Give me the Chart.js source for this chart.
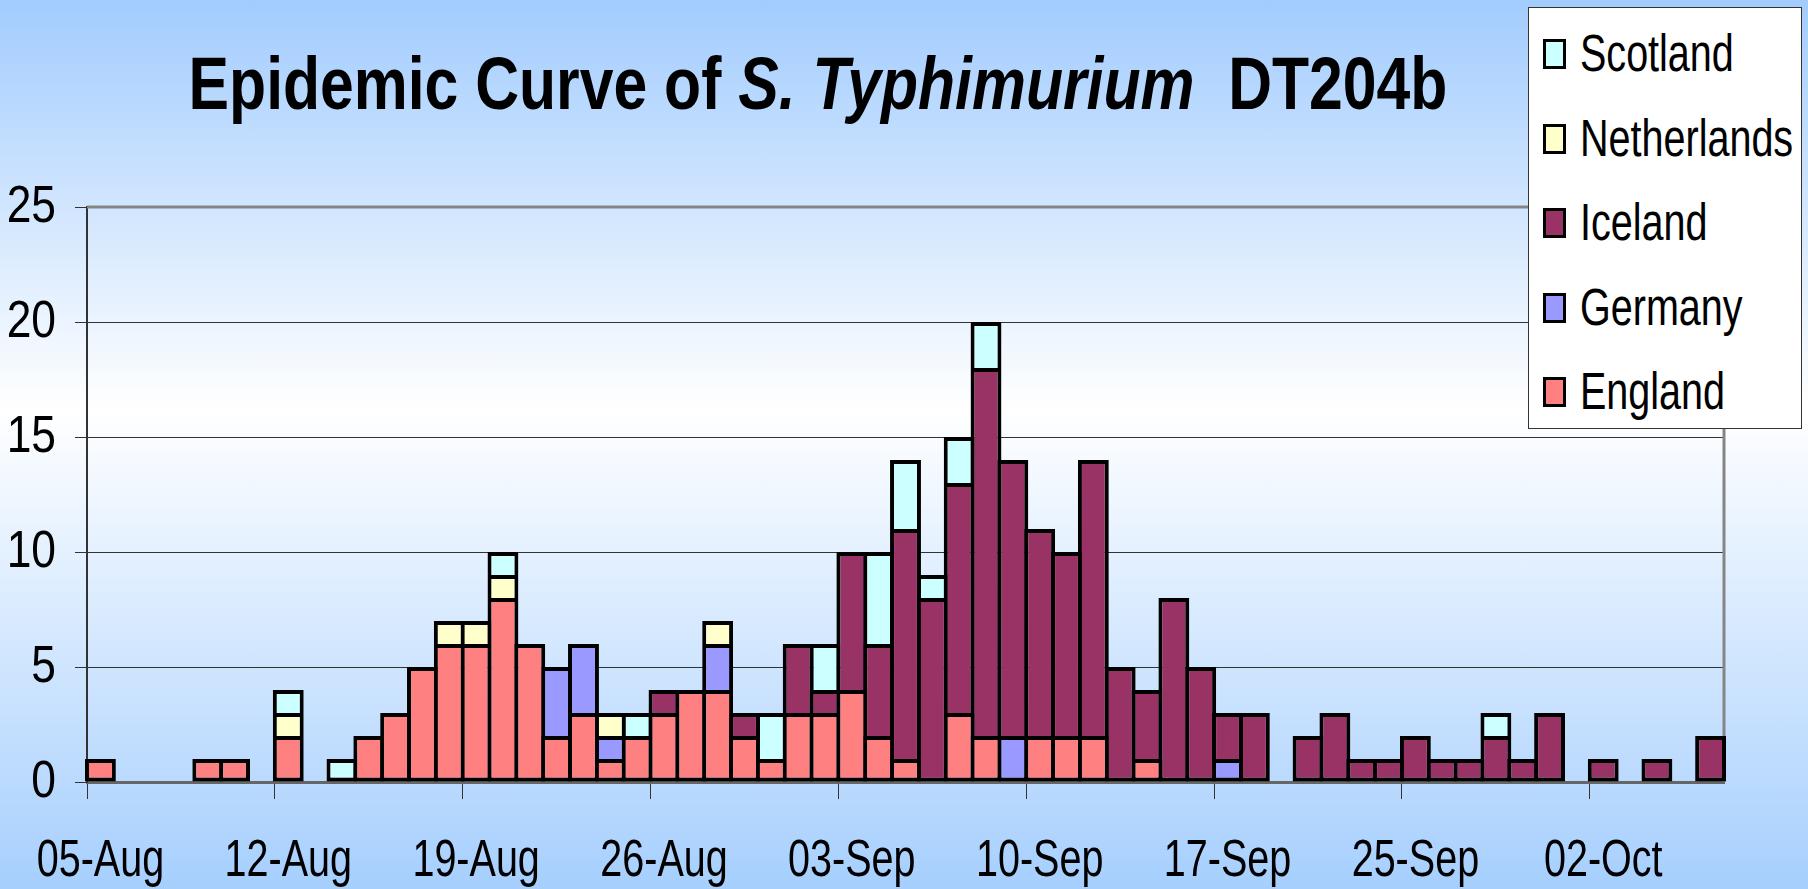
<!DOCTYPE html>
<html>
<head>
<meta charset="utf-8">
<title>Epidemic Curve of S. Typhimurium DT204b</title>
<script src="https://cdn.jsdelivr.net/npm/chart.js@4.4.1/dist/chart.umd.min.js"></script>
<style>
  html, body { margin: 0; padding: 0; }
  body {
    width: 1808px;
    height: 889px;
    overflow: hidden;
    position: relative;
    background: linear-gradient(to bottom, #a2ccfe 0%, #ffffff 46%, #a6cffe 100%);
    font-family: 'Liberation Sans', Arial, sans-serif;
  }
  #chart-wrap { position: absolute; left: 0; top: 0; width: 1808px; height: 889px; }
  #title {
    position: absolute;
    left: 0;
    top: 47px;
    width: 1636px;
    text-align: center;
    font-size: 74px;
    line-height: 74px;
    font-weight: bold;
    color: #000;
    white-space: pre;
    transform: scaleX(0.82);
    transform-origin: 818px 0;
  }
  #legend {
    position: absolute;
    left: 1528px;
    top: 7px;
    width: 272px;
    height: 420px;
    background: #fff;
    border: 1px solid #333;
  }
  .legend-item { position: absolute; left: 0; width: 272px; height: 50px; }
  .legend-box {
    position: absolute;
    left: 14px;
    top: 10px;
    width: 17px;
    height: 24px;
    border: 3px solid #000;
  }
  .legend-text {
    position: absolute;
    left: 51px;
    top: 0;
    font-size: 51px;
    line-height: 50px;
    white-space: nowrap;
    transform: scaleX(0.775);
    transform-origin: 0 0;
  }
</style>
</head>
<body>
<div id="chart-wrap"><canvas id="epiChart"></canvas></div>
<div id="title">Epidemic Curve of <i>S. Typhimurium</i>  DT204b</div>
<div id="legend"></div>

<script>
// tick labels, one every 7 bars
const tickLabels = ['05-Aug', '12-Aug', '19-Aug', '26-Aug', '03-Sep', '10-Sep', '17-Sep', '25-Sep', '02-Oct'];
const barCount = 61;

// daily case counts per country
const england = [1,0,0,0,1,1,0,2,0,0, 2,3,5,6,6,8,6,2,3,1, 2,3,4,4,2,1,3,3,4,2, 1,0,3,2,0,2,2,2,0,1, 0,0,0,0,0,0,0,0,0,0, 0,0,0,0,0,0,0,0,0,0, 0];
const germany = [0,0,0,0,0,0,0,0,0,0, 0,0,0,0,0,0,0,3,3,1, 0,0,0,2,0,0,0,0,0,0, 0,0,0,0,2,0,0,0,0,0, 0,0,1,0,0,0,0,0,0,0, 0,0,0,0,0,0,0,0,0,0, 0];
const iceland = [0,0,0,0,0,0,0,0,0,0, 0,0,0,0,0,0,0,0,0,0, 0,1,0,0,1,0,3,1,6,4, 10,8,10,16,12,9,8,12,5,3, 8,5,2,3,0,2,3,1,1,2, 1,1,2,1,3,0,1,0,1,0, 2];
const netherlands = [0,0,0,0,0,0,0,1,0,0, 0,0,0,1,1,1,0,0,0,1, 0,0,0,1,0,0,0,0,0,0, 0,0,0,0,0,0,0,0,0,0, 0,0,0,0,0,0,0,0,0,0, 0,0,0,0,0,0,0,0,0,0, 0];
const scotland = [0,0,0,0,0,0,0,1,0,1, 0,0,0,0,0,1,0,0,0,0, 1,0,0,0,0,2,0,2,0,4, 3,1,2,2,0,0,0,0,0,0, 0,0,0,0,0,0,0,0,0,0, 0,0,1,0,0,0,0,0,0,0, 0];

const seriesNames = ['England', 'Germany', 'Iceland', 'Netherlands', 'Scotland'];
const seriesValues = [england, germany, iceland, netherlands, scotland];
const seriesColors = ['#ff8080', '#9999ff', '#993366', '#ffffcc', '#ccffff'];

const FONT = "'Liberation Sans', Arial, sans-serif";
const NARROW_X = 0.775; // the original uses a narrow face, squeeze the text to match
const NARROW_Y = 0.87;

const labels = [];
for (let i = 0; i < barCount; i++) {
    labels.push(i % 7 === 0 ? tickLabels[i / 7] : '');
}

// bottom segment of a stack gets a bottom border too
function isLowest(ctx) {
    for (let d = 0; d < ctx.datasetIndex; d++) {
        if (seriesValues[d][ctx.dataIndex] > 0) return false;
    }
    return true;
}

const BW = 4;
const datasets = seriesNames.map((name, i) => ({
    label: name,
    data: seriesValues[i].map(v => v === 0 ? null : v),
    backgroundColor: seriesColors[i],
    borderColor: '#000',
    borderSkipped: false,
    borderWidth: ctx => ({ top: BW, left: BW, right: BW, bottom: isLowest(ctx) ? BW : 0 }),
    barPercentage: 1.15,
    categoryPercentage: 1,
    clip: 6
}));

// gray frame on top and right side of the plot area
const plotFrame = {
    id: 'plotFrame',
    beforeDatasetsDraw(chart) {
        const { ctx, chartArea } = chart;
        ctx.save();
        ctx.strokeStyle = '#858585';
        ctx.lineWidth = 3;
        ctx.beginPath();
        ctx.moveTo(chartArea.left, chartArea.top);
        ctx.lineTo(chartArea.right, chartArea.top);
        ctx.lineTo(chartArea.right, chartArea.bottom);
        ctx.stroke();
        ctx.restore();
    }
};

// tick labels drawn squeezed, at the positions the scales give
const narrowTicks = {
    id: 'narrowTicks',
    afterDraw(chart) {
        const { ctx } = chart;
        const xs = chart.scales.x;
        const ys = chart.scales.y;
        ctx.save();
        ctx.fillStyle = '#000';
        ctx.font = `51px ${FONT}`;

        ctx.textAlign = 'center';
        ctx.textBaseline = 'alphabetic';
        chart.data.labels.forEach((lab, i) => {
            if (!lab) return;
            ctx.save();
            ctx.translate(xs.getPixelForTick(i), 876);
            ctx.scale(NARROW_X, 1);
            ctx.fillText(lab, 0, 0);
            ctx.restore();
        });

        ctx.textAlign = 'right';
        ctx.textBaseline = 'middle';
        ys.ticks.forEach(t => {
            ctx.save();
            ctx.translate(ys.left + ys.width - 31, ys.getPixelForValue(t.value) + 1);
            ctx.scale(NARROW_Y, 1);
            ctx.fillText(String(t.value), 0, 0);
            ctx.restore();
        });
        ctx.restore();
    }
};

new Chart(document.getElementById('epiChart'), {
    type: 'bar',
    data: { labels: labels, datasets: datasets },
    options: {
        responsive: true,
        maintainAspectRatio: false,
        animation: false,
        devicePixelRatio: 1,
        layout: { padding: { top: 207, right: 84, left: 0, bottom: 0 } },
        scales: {
            x: {
                stacked: true,
                offset: true,
                afterFit: s => { s.height = 107; },
                grid: {
                    offset: true,
                    drawOnChartArea: false,
                    tickLength: 17,
                    lineWidth: 1,
                    color: ctx => ctx.index % 7 === 0 ? '#333' : 'rgba(0,0,0,0)'
                },
                border: { color: '#666', width: 3 },
                ticks: { display: false, autoSkip: false, maxRotation: 0 }
            },
            y: {
                stacked: true,
                min: 0,
                max: 25,
                afterFit: s => { s.width = 87; },
                grid: {
                    tickLength: 12,
                    lineWidth: 1,
                    color: ctx => ctx.tick && ctx.tick.value === 25 ? 'rgba(0,0,0,0)' : '#333',
                    tickColor: '#333'
                },
                border: { color: '#333', width: 2 },
                ticks: { display: false, stepSize: 5 }
            }
        },
        plugins: {
            legend: { display: false },
            tooltip: { enabled: false }
        }
    },
    plugins: [plotFrame, narrowTicks]
});

// legend, listed top to bottom like the stack
const legendEl = document.getElementById('legend');
const legendOrder = [4, 3, 2, 1, 0];
legendOrder.forEach((si, row) => {
    const cy = 46 + row * 84.5;
    const item = `
        <div class="legend-item" style="top:${cy - 25}px">
            <div class="legend-box" style="background:${seriesColors[si]}"></div>
            <div class="legend-text">${seriesNames[si]}</div>
        </div>`;
    legendEl.insertAdjacentHTML('beforeend', item);
});
</script>
</body>
</html>
